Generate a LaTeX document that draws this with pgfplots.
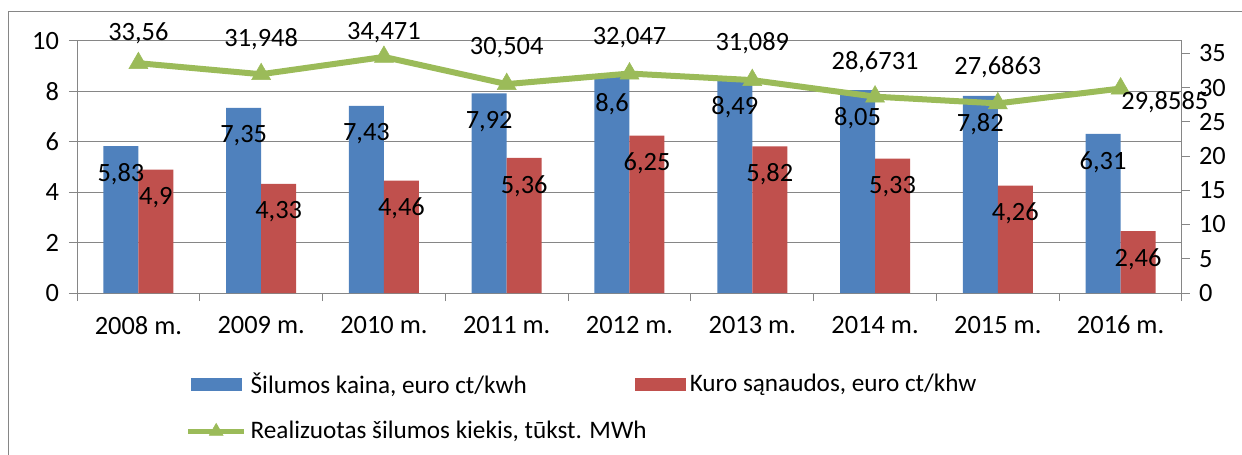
\documentclass[border=0pt]{standalone}
\usepackage{pgfplots}
\usepackage{pgfplotstable}
\pgfplotsset{compat=1.18}
\usepackage{fontspec}
\setmainfont{Carlito}
\definecolor{cblue}{HTML}{4F81BD}
\definecolor{cred}{HTML}{C0504D}
\definecolor{cgreen}{HTML}{9BBB59}
\definecolor{cgray}{HTML}{868686}

\pgfplotstableread{
x blue red
0 5.83 4.90
1 7.35 4.33
2 7.43 4.46
3 7.92 5.36
4 8.60 6.25
5 8.49 5.82
6 8.05 5.33
7 7.82 4.26
8 6.31 2.46
}\bars

\pgfplotstableread{
x v lx ly
0 33.56 0 37.97
1 31.948 1 37.09
2 34.471 2 37.97
3 30.504 3 35.78
4 32.047 4 37.24
5 31.089 5 36.51
6 28.6731 6 33.73
7 27.6863 7 33.00
8 29.8585 8.36 27.89
}\heat

\begin{document}
\begin{tikzpicture}[font=\fontsize{13.2bp}{15bp}\selectfont]
\useasboundingbox (-38.5bp,-81bp) rectangle (582.5bp,146.5bp);
\draw[cgray, line width=0.5bp] (-34bp,-100bp) -- (-34bp,140.5bp) -- (600bp,140.5bp);
\begin{axis}[
  at={(0,0)}, anchor=south west,
  width=552.5bp, height=126bp, scale only axis,
  xmin=-0.5, xmax=8.5, ymin=0, ymax=10,
  axis x line*=bottom, axis y line*=left,
  axis line style={cgray, line width=0.5bp},
  ytick={0,2,...,10},
  ymajorgrids, grid style={cgray, line width=0.5bp},
  xtick={-0.5,0.5,...,8.5},
  xticklabels={2008 m.,2009 m.,2010 m.,2011 m.,2012 m.,2013 m.,2014 m.,2015 m.,2016 m.},
  x tick label as interval,
  tick align=outside, major tick length=4bp,
  tick style={cgray, line width=0.5bp},
  yticklabel style={xshift=-1.5bp},
  xticklabel style={yshift=-4bp},
  /pgf/number format/assume math mode=true,
  /pgf/number format/use comma, /pgf/number format/1000 sep={},
  ybar=0pt, bar width=17.5bp,
  nodes near coords,
  every node near coord/.append style={anchor=center, yshift=-14bp, text=black},
  legend columns=2,
  legend cell align=left,
  legend style={draw=none, fill=none, inner sep=0pt, at={(0.098,-0.298)}, anchor=north west,
    row sep=8.5bp, font=\fontsize{12.6bp}{14.5bp}\selectfont,
    /tikz/every even column/.append style={column sep=-8bp}},
]
\addplot[fill=cblue, draw=none,
  legend image code/.code={\fill[cblue] (0bp,-3.25bp) rectangle (25.5bp,3.25bp);}]
  table[x=x,y=blue]{\bars};
\addlegendentry{Šilumos kaina, euro ct/kwh}
\addplot[fill=cred, draw=none,
  legend image code/.code={\fill[cred] (0bp,-3.25bp) rectangle (25.5bp,3.25bp);}]
  table[x=x,y=red]{\bars};
\addlegendentry{Kuro sąnaudos, euro ct/khw}
\addlegendimage{legend image code/.code={\draw[sharp plot, cgreen, line width=2.5bp, mark=triangle*, mark size=4bp, mark options={solid, line width=0.25bp}, mark repeat=2, mark phase=2] plot coordinates {(-1.5bp,0bp) (12.5bp,0bp) (26.5bp,0bp)};}}
\addlegendentry{Realizuotas šilumos kiekis, tūkst. MWh}
\end{axis}
\begin{axis}[
  at={(0,0)}, anchor=south west,
  width=552.5bp, height=126bp, scale only axis,
  xmin=-0.5, xmax=8.5, ymin=0, ymax=36.8,
  axis y line*=right, axis x line=none,
  axis line style={cgray, line width=0.5bp},
  ytick={0,5,...,35},
  tick align=outside, major tick length=4bp,
  tick style={cgray, line width=0.5bp},
  yticklabel style={xshift=1bp},
  /pgf/number format/assume math mode=true,
  /pgf/number format/use comma, /pgf/number format/1000 sep={},
  clip=false,
]
\addplot[cgreen, line width=3bp, mark=triangle*, mark size=5.5bp, mark options={solid, line width=0.25bp}]
  table[x=x,y=v]{\heat};
\addplot[draw=none, mark=none, nodes near coords, point meta=explicit,
  every node near coord/.append style={anchor=center, text=black},
  /pgf/number format/precision=4]
  table[x=lx,y=ly,meta=v]{\heat};
\end{axis}
\end{tikzpicture}
\end{document}
